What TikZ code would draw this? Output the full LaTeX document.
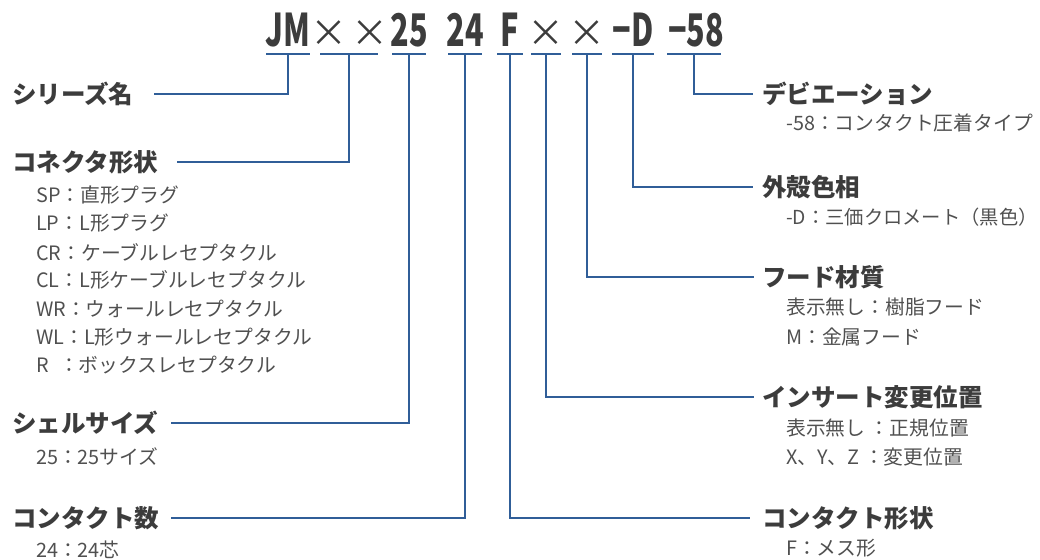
\documentclass[tikz,border=0pt]{standalone}
\usepackage{fontspec}
\usepackage{graphicx}
\setmainfont{Noto Sans CJK JP}
\definecolor{txt}{RGB}{60,60,60}
\definecolor{itm}{RGB}{80,80,80}
\definecolor{wire}{RGB}{48,94,152}
\tikzset{
  code/.style={anchor=base, inner sep=0pt, text=txt, font=\fontsize{45}{50}\selectfont\bfseries},
  cross/.style={anchor=base, inner sep=0pt, text=txt, font=\fontsize{37}{50}\selectfont},
  head/.style={anchor=west, inner sep=0pt, text=txt, font=\fontsize{24.5}{28}\selectfont\bfseries},
  item/.style={anchor=west, inner sep=0pt, text=itm, font=\fontsize{19.8}{24}\selectfont},
  uline/.style={wire, line width=1.3pt},
  link/.style={wire, line width=1.3pt},
}
\newcommand{\cond}[1]{\scalebox{0.68}[1]{#1}}

\begin{document}
\begin{tikzpicture}[x=1pt, y=-1pt]
    \useasboundingbox (0,0) rectangle (1040,559);
    % Code
    \node[code] (cJM) at (288,47) {\cond{JM}};
    \node[cross] (cSh) at (349,47) {×\kern4pt×};
    \node[code] (cSz) at (409,47) {\cond{25}};
    \node[code] (cCt) at (465,47) {\cond{24}};
    \node[code] (cFm) at (510,47) {\cond{F}};
    \node[cross] (cIns) at (546,47) {×};
    \node[cross] (cHd) at (587,47) {×};
    \node[code] (cCol) at (633,47) {\cond{−D}};
    \node[code] (cDev) at (696,47) {\cond{−58}};
    \foreach \n/\x/\w in {JM/288/22, Sh/349/29, Sz/409/17, Ct/465/17, Fm/510/13,
                          Ins/546/15, Hd/587/15, Col/633/21, Dev/694/27} {
        \draw[uline] (\x-\w,54) -- (\x+\w,54);
        \coordinate (u\n) at (\x,54);
    }

    % Left side
    \node[head] (series) at (12,94) {シリーズ名};
    \node[head] (shape) at (12,162) {コネクタ形状};
    \node[item] (shape1) at (36,195) {SP：直形プラグ};
    \node[item] (shape2) at (36,223.5) {LP：L形プラグ};
    \node[item] (shape3) at (36,252) {CR：ケーブルレセプタクル};
    \node[item] (shape4) at (36,280) {CL：L形ケーブルレセプタクル};
    \node[item] (shape5) at (36,308.5) {WR：ウォールレセプタクル};
    \node[item] (shape6) at (36,337) {WL：L形ウォールレセプタクル};
    \node[item] (shape7) at (36,365) {\makebox[23pt][l]{R}：ボックスレセプタクル};
    \node[head] (shell) at (12,423) {シェルサイズ};
    \node[item] (shell1) at (36,457) {25：25サイズ};
    \node[head] (count) at (12,518) {コンタクト数};
    \node[item] (count1) at (36,550) {24：24芯};

    % Right side
    \node[head] (dev) at (762,94) {デビエーション};
    \node[item] (dev1) at (786,123) {-58：コンタクト圧着タイプ};
    \node[head] (col) at (762,187) {外殻色相};
    \node[item, font=\fontsize{19.3}{24}\selectfont] (col1) at (786,217) {-D：三価クロメート（黒色）};
    \node[head] (hood) at (762,277) {フード材質};
    \node[item] (hood1) at (786,307) {表示無し：樹脂フード};
    \node[item] (hood2) at (786,337) {M：金属フード};
    \node[head] (ins) at (762,397) {インサート変更位置};
    \node[item] (ins1) at (786,428) {表示無し ：正規位置};
    \node[item] (ins2) at (786,457) {X、Y、Z ：変更位置};
    \node[head] (cont) at (762,518) {コンタクト形状};
    \node[item] (cont1) at (786,548) {F：メス形};

    % Edges
    \draw[link] (uJM) |- ([xshift=20pt]series.east);
    \draw[link] (uSh) |- ([xshift=19pt]shape.east);
    \draw[link] (uSz) |- ([xshift=12pt]shell.east);
    \draw[link] (uCt) |- ([xshift=12pt]count.east);

    \draw[link] (uFm) |- ([xshift=-12pt]cont.west);
    \draw[link] (uIns) |- ([xshift=-8pt]ins.west);
    \draw[link] (uHd) |- ([xshift=-8pt]hood.west);
    \draw[link] (uCol) |- ([xshift=-9pt]col.west);
    \draw[link] (uDev) |- ([xshift=-9pt]dev.west);
\end{tikzpicture}
\end{document}
